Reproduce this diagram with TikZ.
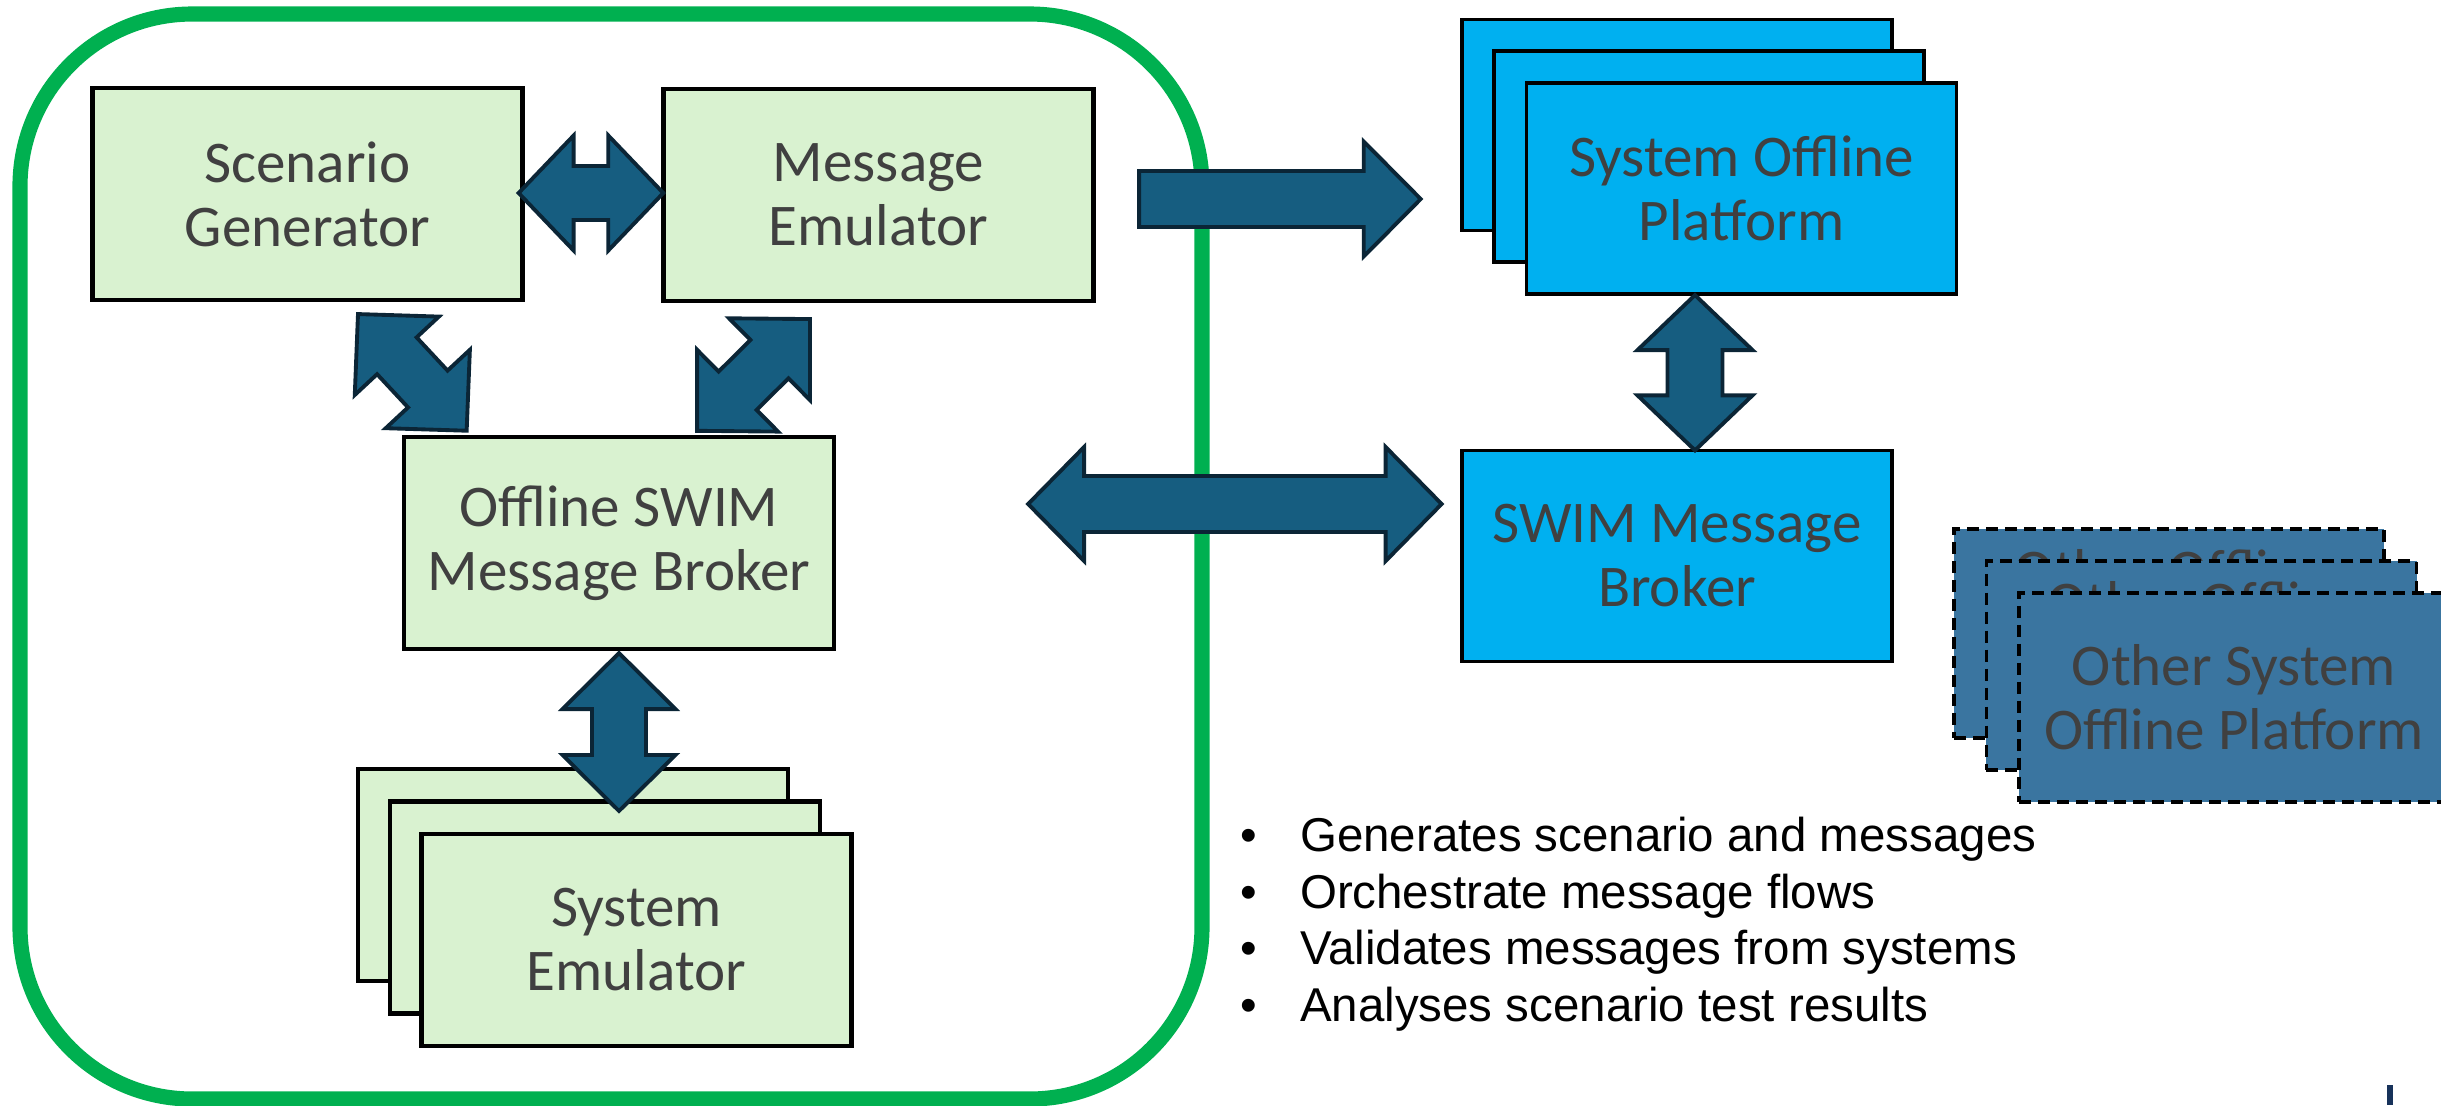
\documentclass[tikz,border=0pt]{standalone}
\usepackage{fontspec}
\setmainfont{Carlito}
\newfontfamily\bulletfont{Liberation Sans}
\usetikzlibrary{calc}
\definecolor{framegreen}{HTML}{00B050}
\definecolor{lightgreen}{HTML}{D9F2D0}
\definecolor{cyanfill}{HTML}{00B0F0}
\definecolor{steelfill}{HTML}{3A75A0}
\definecolor{arrowfill}{HTML}{165D80}
\definecolor{arrowedge}{HTML}{0B2536}
\definecolor{txtgray}{HTML}{404040}
\definecolor{navybar}{HTML}{17325A}
\tikzset{
  box/.style={draw=black, line width=1.3pt, minimum width=4.3cm, minimum height=2.12cm,
    inner sep=0pt, outer sep=0pt, align=center, text=txtgray,
    font=\fontsize{16.8}{18.2}\selectfont},
  greenbox/.style={box, fill=lightgreen},
  cyanbox/.style={box, fill=cyanfill, line width=1pt, minimum height=2.11cm},
  dashbox/.style={box, fill=steelfill, line width=1pt, dash pattern=on 3.4pt off 2pt, minimum height=2.09cm},
  peektext/.style={inner sep=0pt, outer sep=0pt, anchor=north, text=txtgray, font=\fontsize{16.8}{18.2}\selectfont},
  blockarr/.style={fill=arrowfill, draw=arrowedge, line width=1.1pt, line join=miter},
  bulletline/.style={anchor=base west, inner sep=0pt, outer sep=0pt, text=black,
    font=\bulletfont\fontsize{13.5}{16}\selectfont},
}
% double block arrow between two coordinates: #3 head width, #4 shaft width, #5 head length (px)
\newcommand\dblblockarrow[5]{%
  \path (#1); \pgfgetlastxy{\bax}{\bay}%
  \path (#2); \pgfgetlastxy{\bbx}{\bby}%
  \pgfmathsetmacro\baang{atan2(\bby-\bay,\bbx-\bax)}%
  \pgfmathsetmacro\balen{veclen(\bbx-\bax,\bby-\bay)/0.284528}%
  \begin{scope}[shift={(#1)}, rotate=\baang, x=0.01cm, y=0.01cm]
    \draw[blockarr] (0,0) -- (#5,{#3/2}) -- (#5,{#4/2}) -- ({\balen-#5},{#4/2})
      -- ({\balen-#5},{#3/2}) -- (\balen,0) -- ({\balen-#5},{-#3/2})
      -- ({\balen-#5},{-#4/2}) -- (#5,{-#4/2}) -- (#5,{-#3/2}) -- cycle;
  \end{scope}}
% single block arrow from tail #1 to tip #2
\newcommand\oneblockarrow[5]{%
  \path (#1); \pgfgetlastxy{\bax}{\bay}%
  \path (#2); \pgfgetlastxy{\bbx}{\bby}%
  \pgfmathsetmacro\baang{atan2(\bby-\bay,\bbx-\bax)}%
  \pgfmathsetmacro\balen{veclen(\bbx-\bax,\bby-\bay)/0.284528}%
  \begin{scope}[shift={(#1)}, rotate=\baang, x=0.01cm, y=0.01cm]
    \draw[blockarr] (0,{#4/2}) -- ({\balen-#5},{#4/2}) -- ({\balen-#5},{#3/2})
      -- (\balen,0) -- ({\balen-#5},{-#3/2}) -- ({\balen-#5},{-#4/2})
      -- (0,{-#4/2}) -- cycle;
  \end{scope}}
\begin{document}
\begin{tikzpicture}[x=0.01cm, y=-0.01cm]
\useasboundingbox (0,0) rectangle (2441,1105);
% green frame
\draw[draw=framegreen, line width=4.3pt, rounded corners=1.72cm] (20,14) rectangle (1202,1099);

% left group
\node[greenbox] (sg) at (307.5,194) {Scenario\\Generator};
\node[greenbox] (me) at (878.5,195) {Message\\Emulator};
\node[greenbox] (ob) at (619,543) {Offline SWIM\\Message Broker};
\node[greenbox] (se1) at (573,875) {};
\node[greenbox] (se2) at (605,907.5) {};
\node[greenbox] (se3) at (636.5,940) {System\\Emulator};

% right group
\node[cyanbox] (sop1) at (1677,125) {};
\node[cyanbox] (sop2) at (1709,156.5) {};
\node[cyanbox] (sop3) at (1741.5,188.5) {System Offline\\Platform};
\node[cyanbox] (smb) at (1677,556) {SWIM Message\\Broker};

% other system platforms
\node[dashbox] (oop1) at (2169,633.5) {};
\node[peektext] (oop1t) at ($(oop1.north)+(3,21)$) {Other Offline};
\node[dashbox] (oop2) at (2201.5,665.5) {};
\node[peektext] (oop2t) at ($(oop2.north)+(3,21)$) {Other Offline};
\node[dashbox] (oop3) at (2234,697.5) {Other System\\Offline Platform};

% bullets
\node[bulletline] (b1) at (1240,851) {\makebox[17.1pt][l]{\textbullet}Generates scenario and messages};
\node[bulletline] (b2) at (1240,908) {\makebox[17.1pt][l]{\textbullet}Orchestrate message flows};
\node[bulletline] (b3) at (1240,964) {\makebox[17.1pt][l]{\textbullet}Validates messages from systems};
\node[bulletline] (b4) at (1240,1021) {\makebox[17.1pt][l]{\textbullet}Analyses scenario test results};

% small bar bottom right
\fill[navybar] (2387,1085) rectangle (2393,1105);

% arrow end points
\coordinate (a1s) at ($(sg.east)+(-4,-1)$);
\coordinate (a1e) at ($(me.west)+(0,-2)$);
\coordinate (a2s) at ($(sg.south)+(50.5,14)$);
\coordinate (a2e) at ($(ob.north west)+(63,-6)$);
\coordinate (a3s) at ($(me.south)+(-68.5,18)$);
\coordinate (a3e) at ($(ob.north)+(78,-6)$);
\coordinate (a4s) at ($(ob.south)+(0,4)$);
\coordinate (a4e) at ($(ob.south)+(0,162)$);
\coordinate (a5s) at ($(me.east)+(45.5,4)$);
\coordinate (a5e) at ($(sop3.west)+(-105.5,10.5)$);
\coordinate (a6s) at ($(ob.east)+(194,-39)$);
\coordinate (a6e) at ($(smb.west)+(-20,-52)$);
\coordinate (a7s) at ($(sop3.south)+(-46.5,1)$);
\coordinate (a7e) at ($(smb.north)+(18,0)$);

% block arrows
\dblblockarrow{a1s}{a1e}{115}{54}{55}
\dblblockarrow{a2s}{a2e}{115}{54}{57}
\dblblockarrow{a3s}{a3e}{115}{54}{57}
\dblblockarrow{a4s}{a4e}{113}{54}{56}
\oneblockarrow{a5s}{a5e}{115}{56}{57}
\dblblockarrow{a6s}{a6e}{114}{56}{56}
\dblblockarrow{a7s}{a7e}{115}{55}{55}
\end{tikzpicture}
\end{document}
